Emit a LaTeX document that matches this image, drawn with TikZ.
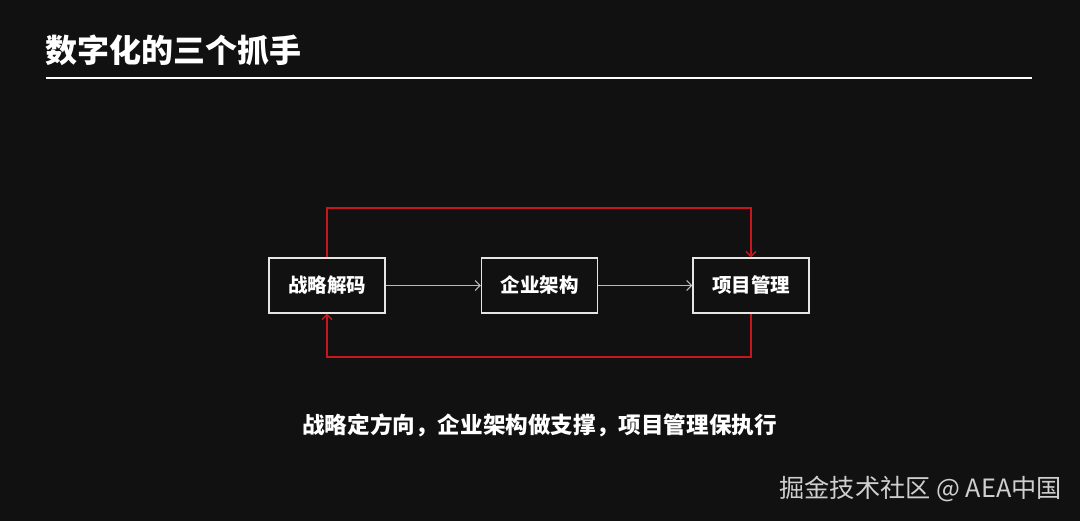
\documentclass[tikz,border=0pt]{standalone}
\usepackage{fontspec}
\setmainfont{Noto Sans CJK SC}
\usetikzlibrary{arrows.meta}
\definecolor{bg}{HTML}{111111}
\definecolor{boxline}{HTML}{E6E6E6}
\definecolor{grayarrow}{HTML}{BBBBBB}
\definecolor{loopred}{HTML}{C8161E}
\definecolor{wm}{HTML}{CFCFCF}
\tikzset{
  box/.style={draw=boxline, line width=1.3pt, minimum width=116pt, minimum height=55pt,
    inner sep=0pt, text=white, font=\fontsize{19.5}{22}\selectfont\bfseries},
  flow/.style={draw=grayarrow, line width=1pt, -{Straight Barb[length=5pt,width=10pt]}},
  redloop/.style={draw=loopred, line width=1.4pt, -{Straight Barb[length=5pt,width=10pt]}},
}
\begin{document}
\begin{tikzpicture}[x=1pt,y=-1pt]
\fill[bg] (0,0) rectangle (1080,521);
\useasboundingbox (0,0) rectangle (1080,521);
% title
\node[anchor=west, text=white, inner sep=0pt, font=\fontsize{32}{35}\selectfont\bfseries] (title) at (45.5,50) {数字化的三个抓手};
\coordinate (l1) at (46,78);
\coordinate (l2) at (1032,78);
\draw[white, line width=2pt] (l1) -- (l2);
% boxes
\node[box] (a) at (327,285.5) {战略解码};
\node[box] (b) at (539.5,285.5) {企业架构};
\node[box] (c) at (751,285.5) {项目管理};
\draw[flow] (a) -- (b);
\draw[flow] (b) -- (c);
% red loop
\coordinate (t2) at (751,208);
\coordinate (b2) at (327,357);
\draw[redloop] (a.north) |- (t2) -- (c.north);
\draw[redloop] (c.south) |- (b2) -- (a.south);
% caption
\node[text=white, inner sep=0pt, font=\fontsize{22.6}{25}\selectfont\bfseries] (cap) at (539.5,425) {战略定方向，企业架构做支撑，项目管理保执行};
% watermark
\node[anchor=east, text=wm, inner sep=0pt, font=\fontsize{25.2}{28}\selectfont] (wmk) at (1062,489) {掘金技术社区 @ AEA中国};
\end{tikzpicture}
\end{document}
